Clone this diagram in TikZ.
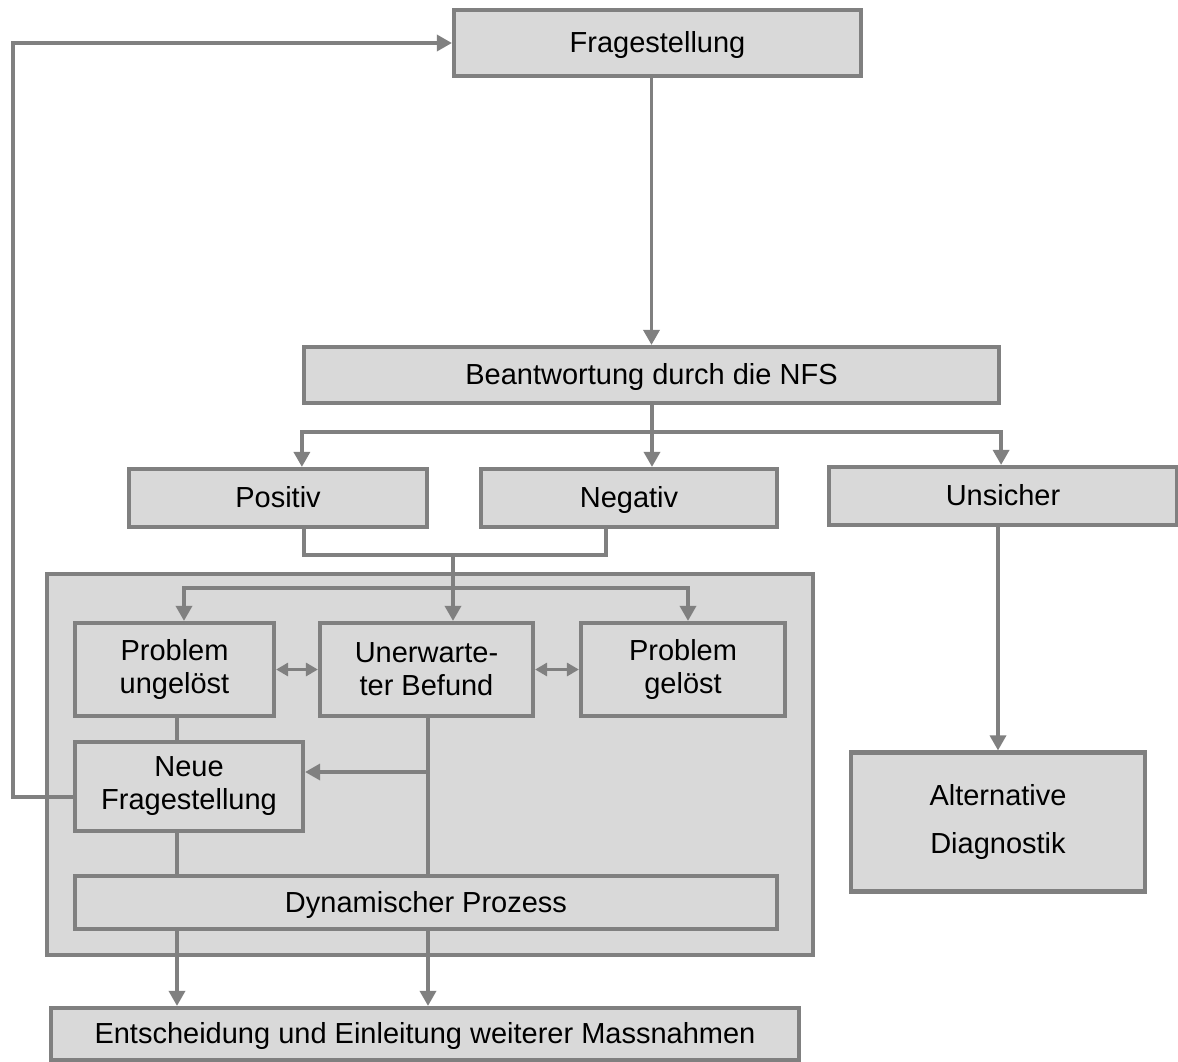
\documentclass[tikz,border=0pt]{standalone}
\usepackage{fontspec}
\setmainfont{Liberation Sans}
\usepackage{xcolor}
\usepackage{tikz}
\usetikzlibrary{arrows.meta, positioning, calc}

\definecolor{linegray}{HTML}{808080}
\definecolor{boxgray}{HTML}{D9D9D9}

\begin{document}
\begin{tikzpicture}[x=0.5pt, y=-0.5pt,
    box/.style={draw=linegray, fill=boxgray, line width=2.1pt, align=center,
        inner sep=0pt, font=\fontsize{14.5}{16.5}\selectfont},
    oneline/.style={text height=12pt, text depth=2.5pt},
    line/.style={draw=linegray, line width=1.7pt},
    arr/.style={line, -{Triangle[length=7.5pt, width=8pt]}},
    dbl/.style={line, {Triangle[length=6pt, width=6.5pt]}-{Triangle[length=6pt, width=6.5pt]}}]
    \useasboundingbox (0,0) rectangle (1178,1061);

    % Frame of the dynamic process
    \draw[draw=linegray, fill=boxgray, line width=2.1pt] (47,574) rectangle (813,955);

    % Nodes
    \node[box, oneline, minimum width=203.5pt, minimum height=33pt] (frage) at (657.5,43) {Fragestellung};
    \node[box, oneline, minimum width=347.5pt, minimum height=28pt] (antwort) at (651.5,375) {Beantwortung durch die NFS};
    \node[box, oneline, minimum width=149pt, minimum height=29pt] (positiv) at (278,498) {Positiv};
    \node[box, oneline, minimum width=148pt, minimum height=29pt] (negativ) at (629,498) {Negativ};
    \node[box, oneline, minimum width=174pt, minimum height=29pt] (unsicher) at (1003,496) {Unsicher};
    \node[box, minimum width=99.5pt, minimum height=46.5pt] (ungeloest) at (174.5,669.5) {Problem\\ungelöst};
    \node[box, minimum width=106.5pt, minimum height=46.5pt] (befund) at (426.5,669.5) {Unerwarte-\\ter Befund};
    \node[box, minimum width=102pt, minimum height=46.5pt] (geloest) at (683,669.5) {Problem\\gelöst};
    \node[box, minimum width=114pt, minimum height=44.5pt] (neue) at (189,786.5) {Neue\\Fragestellung};
    \node[box, oneline, minimum width=351pt, minimum height=26.5pt] (dynamisch) at (426,902.5) {Dynamischer Prozess};
    \node[box, oneline, minimum width=374pt, minimum height=26pt] (massnahmen) at (425,1034) {Entscheidung und Einleitung weiterer Massnahmen};
    \node[box, minimum width=147pt, minimum height=69.5pt,
        font=\fontsize{14.5}{24}\selectfont] (alternativ) at (998,822) {Alternative\\Diagnostik};

    % Junctions
    \coordinate (split) at (652,432);
    \coordinate (mergeL) at (304,555);
    \coordinate (mergeR) at (606,555);
    \coordinate (merge) at (453,555);
    \coordinate (distL) at (184,588);
    \coordinate (distR) at (688,588);
    \coordinate (linkX) at (177,0);
    \coordinate (tap) at (428,772);
    \coordinate (back) at (13,797);

    % Answer branches
    \draw[arr] (frage.south -| antwort.north) -- (antwort.north);
    \draw[arr] (antwort.south -| split) -- (negativ.north -| split);
    \draw[arr] (split) -| (antwort.south west |- positiv.north);
    \draw[arr] (split) -| (antwort.south east |- unsicher.north);
    \draw[arr] (unsicher.south -| alternativ.north) -- (alternativ.north);

    % Positiv and Negativ merge
    \draw[line] (positiv.south -| mergeL) -- (mergeL) -- (mergeR) -- (negativ.south -| mergeR);
    \draw[arr] (merge) -- (befund.north -| merge);
    \draw[arr] (distL -| merge) -- (distL) -- (ungeloest.north -| distL);
    \draw[arr] (distL -| merge) -- (distR) -- (geloest.north -| distR);

    % Inside the frame
    \draw[dbl] (ungeloest.east) -- (befund.west);
    \draw[dbl] (befund.east) -- (geloest.west);
    \draw[line] (ungeloest.south -| linkX) -- (neue.north -| linkX);
    \draw[line] (befund.south -| tap) -- (dynamisch.north -| tap);
    \draw[arr] (tap) -- (neue.east |- tap);
    \draw[line] (neue.south -| linkX) -- (dynamisch.north -| linkX);

    % Out of the frame
    \draw[arr] (dynamisch.south -| linkX) -- (massnahmen.north -| linkX);
    \draw[arr] (dynamisch.south -| tap) -- (massnahmen.north -| tap);

    % Back to the question
    \draw[arr] (neue.west |- back) -- (back) |- (frage.west);
\end{tikzpicture}
\end{document}
